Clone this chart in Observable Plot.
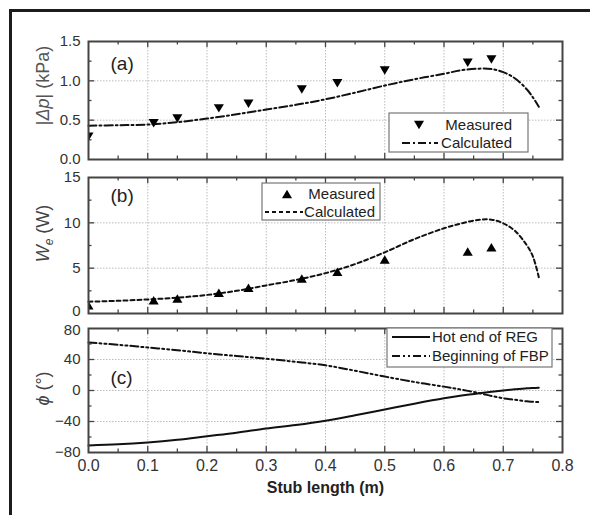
<!DOCTYPE html>
<html><head><meta charset="utf-8">
<script src="https://cdn.jsdelivr.net/npm/d3@7"></script>
<script src="https://cdn.jsdelivr.net/npm/@observablehq/plot@0.6"></script>
<style>
body{margin:0;background:#fff;}
#wrap{position:relative;width:590px;height:515px;overflow:hidden;background:#fff;font-family:"Liberation Sans",Arial,sans-serif;}
#wrap svg{position:absolute;left:0;}
#border{position:absolute;left:9px;top:9px;width:700px;height:700px;border:3px solid #1c1c1c;pointer-events:none;}
</style></head><body><div id="wrap"><div id="border"></div></div>
<script>
// ---- data ----
const measuredX = [0, 0.11, 0.15, 0.22, 0.27, 0.36, 0.42, 0.50, 0.64, 0.68];
const pressureMeasured = [0.29, 0.46, 0.52, 0.65, 0.71, 0.89, 0.97, 1.13, 1.23, 1.27];
const powerMeasured = [0.9, 1.45, 1.65, 2.3, 2.85, 3.85, 4.6, 5.95, 6.85, 7.3];
const calcX = [0, 0.05, 0.1, 0.15, 0.2, 0.25, 0.3, 0.35, 0.4, 0.45, 0.5, 0.55, 0.6, 0.63, 0.66, 0.68, 0.7, 0.72, 0.74, 0.75, 0.76];
const pressureCalc = [0.43, 0.435, 0.445, 0.475, 0.52, 0.575, 0.635, 0.695, 0.765, 0.85, 0.94, 1.02, 1.09, 1.135, 1.155, 1.15, 1.11, 1.03, 0.89, 0.79, 0.67];
const powerCalc = [1.3, 1.4, 1.55, 1.75, 2.05, 2.5, 3.1, 3.7, 4.45, 5.45, 6.75, 8.2, 9.4, 9.95, 10.35, 10.35, 9.95, 9.1, 7.5, 6.3, 4.0];
const phaseREG = [-71, -69.5, -67, -63.5, -59, -54.5, -49, -44.5, -39, -32, -24.5, -17, -10, -6.5, -3.5, -1.7, 0, 1.5, 2.8, 3.2, 3.5];
const phaseFBP = [62, 59, 55.5, 52, 48, 44.5, 41, 37, 32.5, 25.5, 18, 11, 5, 1, -3.5, -7, -10, -12, -14, -14.5, -15];

const xMajor = [0.1, 0.2, 0.3, 0.4, 0.5, 0.6, 0.7];
const xMinor = [0.05, 0.15, 0.25, 0.35, 0.45, 0.55, 0.65, 0.75];
const xTickLabels = [0, 0.1, 0.2, 0.3, 0.4, 0.5, 0.6, 0.7, 0.8];
const yTicksA = [0, 0.5, 1.0, 1.5], yMinorA = [0.25, 0.75, 1.25];
const yTicksB = [0, 5, 10, 15], yMinorB = [2.5, 7.5, 12.5];
const yTicksC = [-80, -40, 0, 40, 80], yMinorC = [-60, -20, 20, 60];

const measured = measuredX.map((x, i) => ({x, p: pressureMeasured[i], w: powerMeasured[i]}));
const calc = calcX.map((x, i) => ({x, p: pressureCalc[i], w: powerCalc[i], reg: phaseREG[i], fbp: phaseFBP[i]}));

// ---- styles ----
const DASHDOT = "8,3,2,3";
const DASHED = "4,3";
const DASHDOTDOT = "8,3,2,3,2,3";
const INK = "#111";
const triDown = {draw(ctx, size){const r=Math.sqrt(size/Math.PI);const w=r*0.95,h=r*0.8;ctx.moveTo(-w,-h);ctx.lineTo(w,-h);ctx.lineTo(0,h);ctx.closePath();}};
const triUp = {draw(ctx, size){const r=Math.sqrt(size/Math.PI);const w=r*0.95,h=r*0.8;ctx.moveTo(-w,h);ctx.lineTo(w,h);ctx.lineTo(0,-h);ctx.closePath();}};

const W = 590, ML = 88, MR = 28;
const wrap = document.getElementById("wrap");

function panel({top, height, mt, mb, yDomain, yTicks, yMinor, yFmt, showX, nudgeLow = 0, nudgeHigh = 0, marks}) {
  const plotH = height - mt - mb, plotW = W - ML - MR;
  const tk = {stroke: "#444", strokeWidth: 1.3};
  const ax = {tickFormat: yFmt, tickSize: 0, tickPadding: 8, fontSize: 15, fill: "#333", label: null};
  const all = [
    Plot.gridX({ticks: xMajor, stroke: "#bcbcbc", strokeOpacity: 1, strokeDasharray: "1.5,1.5"}),
    Plot.gridY({ticks: yTicks.slice(1, -1), stroke: "#bcbcbc", strokeOpacity: 1, strokeDasharray: "1.5,1.5"}),
    Plot.tickX(xMajor, {x: d => d, insetTop: plotH - 6, ...tk}),
    Plot.tickX(xMajor, {x: d => d, insetBottom: plotH - 6, ...tk}),
    Plot.tickX(xMinor, {x: d => d, insetTop: plotH - 3.5, ...tk}),
    Plot.tickX(xMinor, {x: d => d, insetBottom: plotH - 3.5, ...tk}),
    Plot.tickY(yTicks.slice(1, -1), {y: d => d, insetRight: plotW - 6, ...tk}),
    Plot.tickY(yTicks.slice(1, -1), {y: d => d, insetLeft: plotW - 6, ...tk}),
    Plot.tickY(yMinor, {y: d => d, insetRight: plotW - 3.5, ...tk}),
    Plot.tickY(yMinor, {y: d => d, insetLeft: plotW - 3.5, ...tk}),
    Plot.axisY({ticks: yTicks.slice(1, -1), ...ax}),
    Plot.axisY({ticks: yTicks.slice(0, 1), ...ax, dy: nudgeLow}),
    Plot.axisY({ticks: yTicks.slice(-1), ...ax, dy: nudgeHigh}),
    ...(showX ? [
      Plot.axisX({ticks: xTickLabels, tickFormat: d3.format(".1f"), tickSize: 0, tickPadding: 7, fontSize: 16, fill: "#333", label: null}),
      Plot.text(["Stub length (m)"], {frameAnchor: "bottom", dy: 35, fontSize: 16, fontWeight: "bold", fill: "#222", lineAnchor: "middle"})
    ] : []),
    ...marks,
    Plot.frame({stroke: "#444", strokeWidth: 2})
  ];
  const svg = Plot.plot({
    width: W, height, marginLeft: ML, marginRight: MR, marginTop: mt, marginBottom: mb,
    x: {domain: [0, 0.8], ...(showX ? {} : {axis: null})},
    y: {domain: yDomain},
    style: {background: "transparent", overflow: "visible", fontFamily: "'Liberation Sans', Arial, sans-serif", fontSize: "16px", color: "#333"},
    marks: all
  });
  svg.style.top = top + "px";
  wrap.insertBefore(svg, document.getElementById("border"));
  return svg;
}

function rich(svg, plain, html) {
  d3.select(svg).selectAll("text").filter(function(){ return this.textContent === plain; }).html(html);
}

function legendBox(svg, x, y, w, h) {
  const g = d3.select(svg).append("g");
  g.append("rect").attr("x", x).attr("y", y).attr("width", w).attr("height", h)
    .attr("fill", "#fff").attr("stroke", "#777").attr("stroke-width", 1.2);
  return g;
}
function legendText(g, x, y, t, anchor) {
  g.append("text").attr("x", x).attr("y", y).attr("dy", "0.35em").attr("text-anchor", anchor)
    .attr("font-size", 15).attr("fill", "#222").attr("font-family", "'Liberation Sans', Arial, sans-serif").text(t);
}
function legendLine(g, x1, x2, y, dash) {
  g.append("line").attr("x1", x1).attr("x2", x2).attr("y1", y).attr("y2", y)
    .attr("stroke", INK).attr("stroke-width", 2).attr("stroke-dasharray", dash || null);
}
function legendSym(g, x, y, sym) {
  g.append("path").attr("transform", `translate(${x},${y})`).attr("d", d3.symbol(sym, Math.PI * 5.3 * 5.3)()).attr("fill", "#000");
}

const titleOpts = {frameAnchor: "left", dx: -45, rotate: -90, fontSize: 18, textAnchor: "middle", lineAnchor: "middle"};

// ---- panel (a) ----
const svgA = panel({
  top: 0, height: 165, mt: 41, mb: 6, yDomain: [0, 1.5], yTicks: yTicksA, yMinor: yMinorA, yFmt: d3.format(".1f"), showX: false,
  marks: [
    Plot.line(calc, {x: "x", y: "p", stroke: INK, strokeWidth: 2, strokeDasharray: DASHDOT, curve: "catmull-rom"}),
    Plot.dot(measured, {x: "x", y: "p", r: 5.3, symbol: triDown, fill: "#000", stroke: "none", clip: true}),
    Plot.text(["(a)"], {frameAnchor: "top-left", dx: 22, dy: 22, fontSize: 19, fill: "#222", textAnchor: "start", lineAnchor: "middle"}),
    Plot.text(["|Δp| (kPa)"], {...titleOpts, dy: -15, fill: "#555"})
  ]
});
rich(svgA, "|Δp| (kPa)", '|<tspan font-style="italic">Δp</tspan>| (kPa)');
{
  const g = legendBox(svgA, 389, 113, 139, 39);
  legendSym(g, 419, 125, triDown);
  legendText(g, 512, 125, "Measured", "end");
  legendLine(g, 402, 438, 143, DASHDOT);
  legendText(g, 512, 143, "Calculated", "end");
}

// ---- panel (b) ----
const svgB = panel({
  top: 165, height: 153, mt: 12, mb: 5, yDomain: [0, 15], yTicks: yTicksB, yMinor: yMinorB, yFmt: d3.format("d"), showX: false, nudgeLow: -2,
  marks: [
    Plot.line(calc, {x: "x", y: "w", stroke: INK, strokeWidth: 2, strokeDasharray: DASHED, curve: "catmull-rom"}),
    Plot.dot(measured, {x: "x", y: "w", r: 5.3, symbol: triUp, fill: "#000", stroke: "none", clip: true}),
    Plot.text(["(b)"], {frameAnchor: "top-left", dx: 22, dy: 18, fontSize: 19, fill: "#222", textAnchor: "start", lineAnchor: "middle"}),
    Plot.text(["We (W)"], {...titleOpts, dy: -12, fill: "#444"})
  ]
});
rich(svgB, "We (W)", '<tspan font-style="italic">W</tspan><tspan font-style="italic" font-size="12" dy="4">e</tspan><tspan dy="-4"> (W)</tspan>');
{
  const g = legendBox(svgB, 262, 18, 118, 37);
  legendSym(g, 287, 29, triUp);
  legendText(g, 375, 29, "Measured", "end");
  legendLine(g, 265, 303, 47, DASHED);
  legendText(g, 375, 47, "Calculated", "end");
}

// ---- panel (c) ----
const svgC = panel({
  top: 318, height: 197, mt: 10, mb: 63, yDomain: [-80, 80], yTicks: yTicksC, yMinor: yMinorC, yFmt: d3.format("d"), showX: true, nudgeHigh: 2,
  marks: [
    Plot.line(calc, {x: "x", y: "reg", stroke: INK, strokeWidth: 2, curve: "catmull-rom"}),
    Plot.line(calc, {x: "x", y: "fbp", stroke: INK, strokeWidth: 2, strokeDasharray: DASHDOTDOT, curve: "catmull-rom"}),
    Plot.text(["(c)"], {frameAnchor: "top-left", dx: 22, dy: 49, fontSize: 19, fill: "#222", textAnchor: "start", lineAnchor: "middle"}),
    Plot.text(["ϕ (°)"], {...titleOpts, dy: -2, fill: "#444"})
  ]
});
rich(svgC, "ϕ (°)", '<tspan font-style="italic">ϕ</tspan> (°)');
{
  const g = legendBox(svgC, 387, 10, 165, 39);
  legendLine(g, 392, 430, 19, null);
  legendText(g, 432, 19, "Hot end of REG", "start");
  legendLine(g, 392, 430, 38, DASHDOTDOT);
  legendText(g, 432, 38, "Beginning of FBP", "start");
}
</script></body></html>
